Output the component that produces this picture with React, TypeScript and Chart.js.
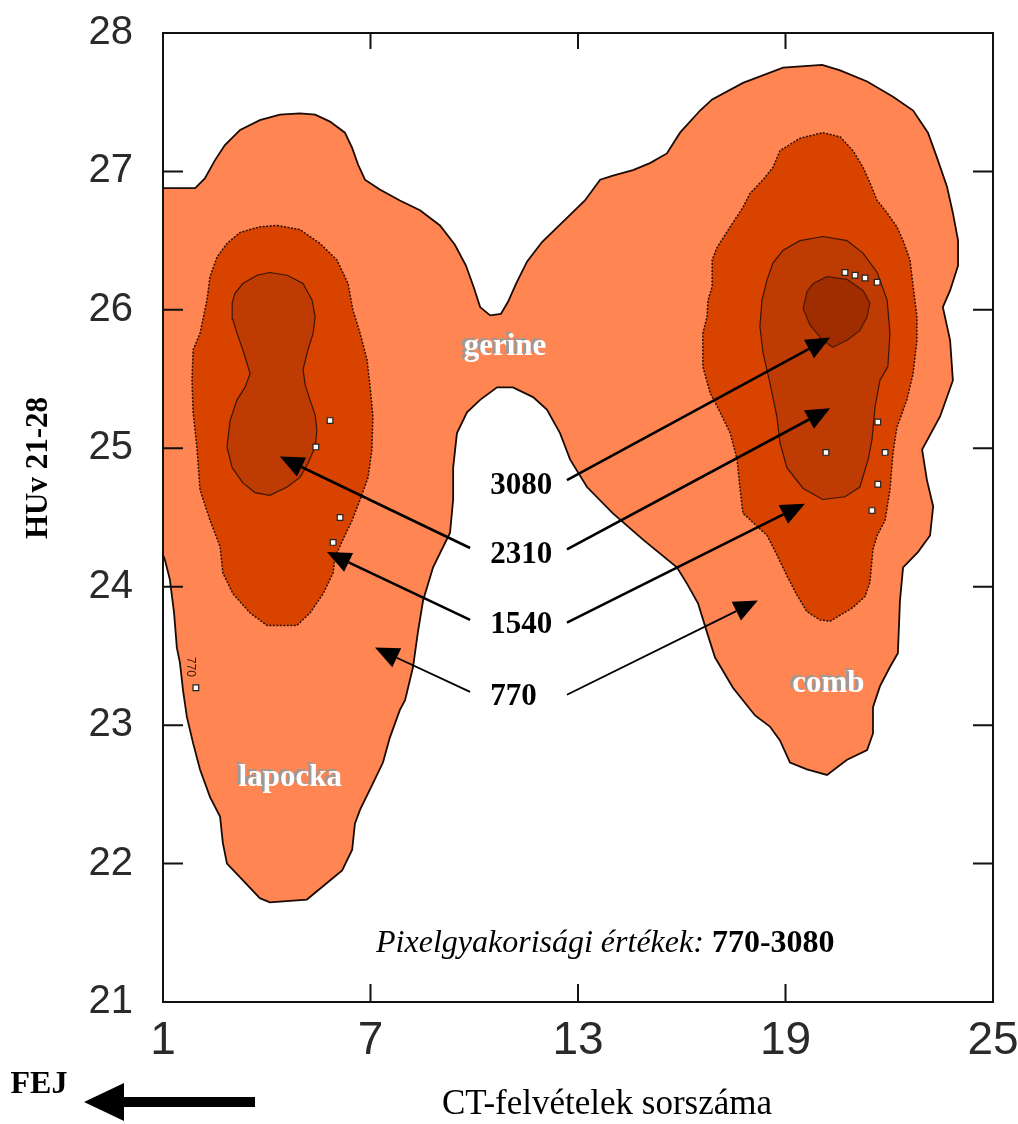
import React, { useEffect, useRef } from 'react';
import { Chart, registerables } from 'chart.js';

Chart.register(...registerables);

// ---- axis ticks ----
const xTicks = [1, 7, 13, 19, 25];
const yTicks = [21, 22, 23, 24, 25, 26, 27, 28];

// ---- contour outlines (CT slice index, HU value) ----
// level 770 (outer, both lobes + spine)
const outer770: [number, number][] = [
  [1.0, 26.88], [1.93, 26.88], [2.21, 26.95], [2.5, 27.08], [2.79, 27.19], [3.23, 27.3], [3.8, 27.37],
  [4.38, 27.41], [4.96, 27.42], [5.4, 27.41], [5.83, 27.36], [6.26, 27.28], [6.47, 27.17], [6.64, 27.05],
  [6.84, 26.94], [7.27, 26.87], [7.85, 26.79], [8.43, 26.72], [9.01, 26.61], [9.44, 26.47], [9.76, 26.32],
  [9.99, 26.16], [10.17, 26.02], [10.46, 25.96], [10.77, 25.97], [10.98, 26.06], [11.21, 26.19],
  [11.53, 26.35], [11.96, 26.49], [12.54, 26.63], [13.2, 26.79], [13.64, 26.94], [14.01, 26.97],
  [14.59, 27.01], [15.08, 27.06], [15.57, 27.13], [15.95, 27.28], [16.53, 27.44], [16.88, 27.52],
  [17.77, 27.64], [18.93, 27.75], [20.06, 27.77], [20.58, 27.73], [21.36, 27.65], [22.11, 27.54],
  [22.69, 27.44], [23.12, 27.28], [23.38, 27.1], [23.67, 26.89], [23.84, 26.7], [23.99, 26.5],
  [23.99, 26.32], [23.76, 26.14], [23.55, 26.02], [23.76, 25.78], [23.84, 25.49], [23.47, 25.23],
  [22.95, 24.99], [23.09, 24.77], [23.27, 24.58], [23.18, 24.37], [22.83, 24.25], [22.4, 24.14],
  [22.31, 23.9], [22.25, 23.52], [22.02, 23.42], [21.73, 23.28], [21.53, 23.13], [21.53, 22.94],
  [21.36, 22.82], [20.78, 22.75], [20.2, 22.64], [19.62, 22.68], [19.13, 22.73], [18.84, 22.89],
  [18.55, 22.99], [18.12, 23.07], [17.48, 23.27], [16.96, 23.49], [16.73, 23.67], [16.47, 23.88],
  [16.18, 24.01], [15.86, 24.14], [14.88, 24.34], [14.01, 24.53], [13.26, 24.72], [12.77, 24.92],
  [12.48, 25.11], [12.1, 25.28], [11.7, 25.37], [11.12, 25.44], [10.66, 25.44], [10.17, 25.35],
  [9.79, 25.26], [9.5, 25.11], [9.39, 24.86], [9.39, 24.63], [9.3, 24.39], [8.81, 24.14], [8.52, 23.9],
  [8.37, 23.67], [8.23, 23.42], [8.0, 23.18], [7.85, 23.11], [7.56, 22.91], [7.36, 22.73], [7.07, 22.58],
  [6.7, 22.39], [6.55, 22.29], [6.47, 22.1], [6.18, 21.95], [5.74, 21.86], [5.16, 21.74], [4.09, 21.72],
  [3.8, 21.75], [3.23, 21.9], [2.85, 22.0], [2.73, 22.15], [2.65, 22.34], [2.36, 22.48], [2.07, 22.68],
  [1.87, 22.87], [1.69, 23.06], [1.58, 23.25], [1.49, 23.45], [1.4, 23.56], [1.32, 23.81], [1.2, 24.05],
  [1.06, 24.19], [1.0, 24.23],
];

// level 1540, shoulder (lapocka)
const left1540: [number, number][] = [
  [4.3, 26.61], [4.96, 26.58], [5.54, 26.48], [6.03, 26.36], [6.35, 26.19], [6.49, 26.0], [6.7, 25.83],
  [6.9, 25.64], [6.99, 25.44], [7.07, 25.23], [7.04, 24.99], [6.93, 24.79], [6.7, 24.63], [6.47, 24.48],
  [6.2, 24.34], [5.97, 24.21], [5.92, 24.1], [5.63, 23.95], [5.25, 23.81], [4.87, 23.72], [4.01, 23.72],
  [3.52, 23.81], [3.02, 23.95], [2.73, 24.1], [2.65, 24.29], [2.36, 24.48], [2.07, 24.7], [1.98, 25.01],
  [1.87, 25.26], [1.84, 25.49], [1.87, 25.71], [2.07, 25.83], [2.27, 26.07], [2.36, 26.24], [2.56, 26.38],
  [2.85, 26.48], [3.23, 26.56], [3.8, 26.6],
];

// level 2310, shoulder
const left2310: [number, number][] = [
  [4.09, 26.27], [4.59, 26.25], [5.05, 26.19], [5.31, 26.07], [5.4, 25.95], [5.34, 25.83], [5.19, 25.71],
  [5.05, 25.57], [5.11, 25.46], [5.25, 25.35], [5.4, 25.24], [5.45, 25.13], [5.4, 25.01], [5.19, 24.89],
  [4.96, 24.79], [4.59, 24.72], [4.09, 24.66], [3.66, 24.68], [3.31, 24.75], [3.0, 24.86], [2.85, 25.01],
  [2.94, 25.2], [3.14, 25.35], [3.37, 25.44], [3.52, 25.54], [3.31, 25.71], [3.14, 25.83], [3.02, 25.93],
  [3.0, 26.05], [3.08, 26.12], [3.31, 26.19], [3.72, 26.25],
];

// level 1540, thigh (comb)
const right1540: [number, number][] = [
  [20.08, 27.28], [20.58, 27.25], [20.95, 27.15], [21.24, 27.03], [21.44, 26.92], [21.65, 26.79],
  [21.94, 26.7], [22.22, 26.6], [22.4, 26.5], [22.6, 26.36], [22.69, 26.17], [22.8, 25.95], [22.8, 25.78],
  [22.69, 25.54], [22.51, 25.35], [22.22, 25.15], [22.11, 24.97], [22.02, 24.7], [21.88, 24.48],
  [21.65, 24.37], [21.53, 24.27], [21.44, 24.03], [21.3, 23.93], [20.95, 23.85], [20.29, 23.75],
  [20.0, 23.76], [19.62, 23.82], [19.33, 23.94], [19.04, 24.08], [18.75, 24.23], [18.47, 24.37],
  [17.77, 24.53], [17.68, 24.72], [17.6, 24.92], [17.4, 25.11], [17.11, 25.26], [16.82, 25.4],
  [16.61, 25.59], [16.61, 25.83], [16.73, 25.95], [16.76, 26.07], [16.88, 26.17], [16.88, 26.36],
  [17.02, 26.45], [17.4, 26.6], [17.77, 26.74], [17.97, 26.84], [18.35, 26.94], [18.64, 27.03],
  [18.84, 27.15], [19.42, 27.24],
];

// level 2310, thigh
const right2310: [number, number][] = [
  [20.08, 26.53], [20.78, 26.5], [21.24, 26.41], [21.65, 26.27], [21.94, 26.07], [22.02, 25.83],
  [21.96, 25.59], [21.73, 25.49], [21.59, 25.3], [21.5, 25.06], [21.39, 24.92], [21.15, 24.72],
  [20.72, 24.65], [20.08, 24.63], [19.51, 24.71], [19.04, 24.86], [18.84, 25.04], [18.75, 25.23],
  [18.55, 25.47], [18.35, 25.69], [18.26, 25.88], [18.32, 26.07], [18.47, 26.22], [18.64, 26.34],
  [18.93, 26.43], [19.42, 26.5],
];

// level 3080, thigh
const right3080: [number, number][] = [
  [20.2, 26.24], [20.78, 26.22], [21.24, 26.14], [21.44, 26.05], [21.36, 25.95], [21.15, 25.85],
  [20.78, 25.78], [20.37, 25.73], [20.08, 25.78], [19.71, 25.89], [19.51, 26.01], [19.62, 26.13],
  [19.8, 26.19],
];

// small isolated high-frequency spots
const whiteSpots: [number, number][] = [
  [5.83, 25.2], [5.42, 25.01], [6.12, 24.5], [5.92, 24.32], [1.95, 23.27],
  [20.72, 26.27], [21.01, 26.25], [21.3, 26.23], [21.65, 26.2],
  [21.67, 25.19], [21.88, 24.97], [21.67, 24.74], [21.5, 24.55], [20.17, 24.97],
];

// ---- level labels and arrows ----
const levelLabels = ['3080', '2310', '1540', '770'];
const levelLabelX = 10.46;
const levelLabelY = [24.73, 24.23, 23.72, 23.2];
const arrowRightStart = { x: 12.68, y: [24.77, 24.27, 23.74, 23.22] };
const arrowRightTip: [number, number][] = [[20.29, 25.8], [20.29, 25.29], [19.56, 24.6], [18.2, 23.9]];
const arrowLeftStart = { x: 9.88, y: [null, 24.28, 23.76, 23.24] };
const arrowLeftTip: ([number, number] | null)[] = [null, [4.38, 24.94], [5.74, 24.25], [7.13, 23.56]];

const regionNames = ['gerine', 'lapocka', 'comb'];
const regionPos: [number, number][] = [[10.89, 25.73], [4.68, 22.62], [20.24, 23.3]];

const pts = (a: [number, number][], close = true) => {
  const p = a.map(([x, y]) => ({ x, y }));
  if (close) p.push({ x: a[0][0], y: a[0][1] });
  return p;
};

function drawArrow(ctx: CanvasRenderingContext2D, x1: number, y1: number, x2: number, y2: number, w: number, head: number, headW: number) {
  const ang = Math.atan2(y2 - y1, x2 - x1);
  const bx = x2 - head * Math.cos(ang);
  const by = y2 - head * Math.sin(ang);
  ctx.lineWidth = w;
  ctx.beginPath();
  ctx.moveTo(x1, y1);
  ctx.lineTo(bx, by);
  ctx.stroke();
  ctx.beginPath();
  ctx.moveTo(x2, y2);
  ctx.lineTo(bx + (headW / 2) * Math.sin(ang), by - (headW / 2) * Math.cos(ang));
  ctx.lineTo(bx - (headW / 2) * Math.sin(ang), by + (headW / 2) * Math.cos(ang));
  ctx.closePath();
  ctx.fill();
}

const annotPlugin = {
  id: 'annot',
  afterDatasetsDraw(chart: any) {
    const { ctx, chartArea: a } = chart;
    const sx = chart.scales.x;
    const sy = chart.scales.y;
    const X = (v: number) => sx.getPixelForValue(v);
    const Y = (v: number) => sy.getPixelForValue(v);
    ctx.save();
    // frame
    ctx.strokeStyle = '#111';
    ctx.lineWidth = 2;
    ctx.strokeRect(a.left, a.top, a.right - a.left, a.bottom - a.top);
    // inward ticks
    ctx.lineWidth = 2;
    ctx.beginPath();
    xTicks.slice(1, -1).forEach((v) => {
      const p = X(v);
      ctx.moveTo(p, a.bottom); ctx.lineTo(p, a.bottom - 18);
      ctx.moveTo(p, a.top); ctx.lineTo(p, a.top + 16);
    });
    yTicks.slice(1, -1).forEach((v) => {
      const p = Y(v);
      ctx.moveTo(a.left, p); ctx.lineTo(a.left + 20, p);
      ctx.moveTo(a.right, p); ctx.lineTo(a.right - 20, p);
    });
    ctx.stroke();

    // region names: white with grey shadow
    ctx.font = 'bold 31px "Liberation Serif"';
    ctx.textAlign = 'center';
    ctx.textBaseline = 'middle';
    regionNames.forEach((n, i) => {
      const px = X(regionPos[i][0]);
      const py = Y(regionPos[i][1]);
      ctx.fillStyle = '#9a9a9a';
      ctx.fillText(n, px - 3, py - 2);
      ctx.fillStyle = '#ffffff';
      ctx.fillText(n, px, py);
    });

    // tiny contour label
    ctx.save();
    ctx.translate(X(1.8), Y(23.42));
    ctx.rotate(Math.PI / 2);
    ctx.font = '12px "Liberation Sans"';
    ctx.fillStyle = '#3a1505';
    ctx.fillText('770', 0, 0);
    ctx.restore();

    // level labels and arrows
    ctx.fillStyle = '#000';
    ctx.strokeStyle = '#000';
    ctx.font = 'bold 31px "Liberation Serif"';
    ctx.textAlign = 'left';
    ctx.textBaseline = 'middle';
    levelLabels.forEach((t, i) => {
      ctx.fillText(t, X(levelLabelX), Y(levelLabelY[i]));
      const w = i === 3 ? 1.8 : 2.6;
      drawArrow(ctx, X(arrowRightStart.x), Y(arrowRightStart.y[i]), X(arrowRightTip[i][0]), Y(arrowRightTip[i][1]), w, 24, 21);
      const lt = arrowLeftTip[i];
      const ly = arrowLeftStart.y[i];
      if (lt && ly !== null) {
        drawArrow(ctx, X(arrowLeftStart.x), Y(ly as number), X(lt[0]), Y(lt[1]), w, 24, 21);
      }
    });

    // note
    const nx = X(7.16);
    const ny = Y(21.36);
    ctx.textBaseline = 'alphabetic';
    ctx.font = 'italic 32px "Liberation Serif"';
    const part1 = 'Pixelgyakorisági értékek: ';
    ctx.fillText(part1, nx, ny);
    const w1 = ctx.measureText(part1).width;
    ctx.font = 'bold 32px "Liberation Serif"';
    ctx.fillText('770-3080', nx + w1, ny);

    // axis titles
    ctx.textAlign = 'center';
    ctx.textBaseline = 'middle';
    ctx.save();
    ctx.translate(39, 468);
    ctx.rotate(-Math.PI / 2);
    ctx.font = 'bold 31px "Liberation Serif"';
    ctx.fillText('HUv 21-28', 0, 0);
    ctx.restore();

    ctx.font = '35px "Liberation Serif"';
    ctx.fillText('CT-felvételek sorszáma', 607, 1105);

    ctx.font = 'bold 32px "Liberation Serif"';
    ctx.fillText('FEJ', 39, 1085);

    // head-direction arrow
    ctx.beginPath();
    ctx.lineWidth = 10;
    ctx.moveTo(255, 1102);
    ctx.lineTo(118, 1102);
    ctx.stroke();
    ctx.beginPath();
    ctx.moveTo(84, 1102);
    ctx.lineTo(124, 1083);
    ctx.lineTo(124, 1121);
    ctx.closePath();
    ctx.fill();
    ctx.restore();
  },
};

const noPad = (s: any) => {
  s.paddingLeft = 0;
  s.paddingRight = 0;
  s.paddingTop = 0;
  s.paddingBottom = 0;
};

export default function App() {
  const ref = useRef<HTMLCanvasElement>(null);
  useEffect(() => {
    const poly = (data: [number, number][], bg: string, border: string, bw: number, order: number, dash: number[] = []) => ({
      data: pts(data),
      showLine: true,
      fill: 'shape',
      backgroundColor: bg,
      borderColor: border,
      borderWidth: bw,
      borderDash: dash,
      pointRadius: 0,
      pointHoverRadius: 0,
      tension: 0,
      order,
    });
    const chart = new Chart(ref.current as HTMLCanvasElement, {
      type: 'scatter',
      data: {
        datasets: [
          {
            data: pts(whiteSpots, false),
            showLine: false,
            pointStyle: 'rect',
            pointRadius: 4,
            backgroundColor: '#ffffff',
            borderColor: '#222',
            borderWidth: 1.2,
            order: 0,
          } as any,
          poly(right3080, '#A02D00', '#4a1a05', 1.2, 2),
          poly(right2310, '#BE3B04', '#3a1505', 1.2, 3),
          poly(left2310, '#BE3B04', '#3a1505', 1.2, 3),
          poly(right1540, '#D84400', '#2a0f04', 1.5, 4, [2, 1.5]),
          poly(left1540, '#D84400', '#2a0f04', 1.5, 4, [2, 1.5]),
          poly(outer770, '#FF8552', '#1a0a04', 1.8, 5),
        ] as any,
      },
      options: {
        responsive: false,
        animation: false,
        devicePixelRatio: 1,
        events: [],
        layout: { padding: { left: 0, right: 25, top: 33, bottom: 0 } },
        plugins: { legend: { display: false }, tooltip: { enabled: false } },
        scales: {
          x: {
            type: 'linear',
            min: 1,
            max: 25,
            grid: { display: false, drawTicks: false },
            border: { display: false },
            afterBuildTicks: (s: any) => { s.ticks = xTicks.map((v) => ({ value: v })); },
            afterFit: (s: any) => { s.height = 122; noPad(s); },
            ticks: { padding: 12, color: '#2a2a2a', font: { family: '"Liberation Sans"', size: 46 }, maxRotation: 0, autoSkip: false },
          },
          y: {
            type: 'linear',
            min: 21,
            max: 28,
            grid: { display: false, drawTicks: false },
            border: { display: false },
            afterBuildTicks: (s: any) => { s.ticks = yTicks.map((v) => ({ value: v })); },
            afterFit: (s: any) => { s.width = 163; noPad(s); },
            ticks: { padding: 30, color: '#2a2a2a', font: { family: '"Liberation Sans"', size: 40 }, autoSkip: false },
          },
        },
      } as any,
      plugins: [annotPlugin],
    });
    return () => chart.destroy();
  }, []);
  return (
    <div style={{ position: 'absolute', left: 0, top: 0, width: 1018, height: 1124, background: '#fff' }}>
      <canvas ref={ref} width={1018} height={1124} style={{ display: 'block', width: 1018, height: 1124 }} />
    </div>
  );
}
